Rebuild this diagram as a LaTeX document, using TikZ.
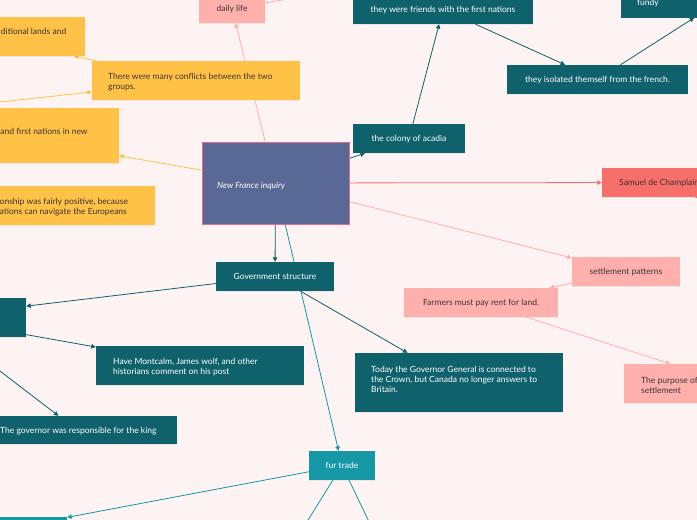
\documentclass[tikz,border=0pt]{standalone}
\usepackage{fontspec}
\setmainfont{Lato}
\usetikzlibrary{arrows.meta,shadows}
\definecolor{bgc}{HTML}{FDF3F2}
\definecolor{cblue}{HTML}{5A6896}
\definecolor{cpink}{HTML}{E26A95}
\definecolor{lpink}{HTML}{FFB0AD}
\definecolor{cyel}{HTML}{FFC247}
\definecolor{dteal}{HTML}{0F616B}
\definecolor{lteal}{HTML}{1597A5}
\definecolor{csalm}{HTML}{F76F6A}
\definecolor{dtext}{HTML}{3D3333}
\pgfdeclarelayer{back}
\pgfsetlayers{back,main}
\newcommand{\boxfont}{\fontsize{8.5}{10}\selectfont}
\tikzset{
  box/.style={rectangle, inner xsep=16pt, inner ysep=0pt, font=\boxfont,
    text height=6.5pt, text depth=0pt,
    drop shadow={shadow xshift=0.4pt, shadow yshift=-0.9pt, opacity=0.12}},
  darkbox/.style={box, fill=dteal, text=white},
  tealbox/.style={box, fill=lteal, text=white},
  yelbox/.style={box, fill=cyel, text=dtext},
  pinkbox/.style={box, fill=lpink, text=dtext},
  salmbox/.style={box, fill=csalm, text=dtext},
  txt/.style={inner sep=0pt, font=\boxfont, align=left},
  conn/.style={line width=0.8pt, -{Triangle[width=4.5pt,length=4.5pt]}},
}
\begin{document}
\begin{tikzpicture}[x=1pt,y=-1pt]
\useasboundingbox (0,0) rectangle (697,520);
\begin{pgfonlayer}{back}
\fill[bgc] (0,0) rectangle (697,520);
\end{pgfonlayer}

% central node
\node[box, fill=cblue, draw=cpink, line width=1pt, minimum width=147pt, minimum height=82pt] (ctr) at (275.5,183) {};
\node[txt, text=white, font=\fontsize{8.5}{10}\selectfont\itshape, anchor=mid west] (ctrt) at (217,186) {New France inquiry};

% top / left (yellow, pink)
\node[pinkbox, minimum width=66pt, minimum height=29pt] (daily) at (232,8.5) {daily life};
\node[yelbox, minimum width=208pt, minimum height=39pt] (confl) at (196,80.5) {};
\node[txt, text=dtext, anchor=west] (conflt) at (108,82) {There were many conflicts between the two\\groups.};
\node[yelbox, minimum width=220pt, minimum height=39pt] (yla) at (-25,36.5) {};
\node[txt, text=dtext, anchor=mid east] (ylat) at (66.5,32) {ditional lands and};
\node[yelbox, minimum width=233pt, minimum height=55pt] (ylb) at (2.5,135.5) {};
\node[txt, text=dtext, anchor=mid west] (ylbt) at (0.3,132) {and first nations in new};
\node[yelbox, minimum width=211pt, minimum height=39pt] (ylc) at (49.5,205.5) {};
\node[txt, text=dtext, anchor=west] (ylct) at (-0.5,207) {onship was fairly positive, because\\ations can navigate the Europeans};

% top right (dark teal)
\node[darkbox, minimum width=180pt, minimum height=29pt] (friends) at (443,9.5) {they were friends with the first nations};
\node[darkbox, minimum width=208pt, minimum height=39pt] (fundy) at (725,-2) {};
\node[txt, text=white, anchor=mid west] (fundyt) at (637,3) {fundy};
\node[darkbox, minimum width=181pt, minimum height=29pt] (isol) at (597.5,79.5) {they isolated themself from the french.};
\node[darkbox, minimum width=112pt, minimum height=29pt] (acadia) at (409,138.5) {the colony of acadia};

% right (salmon, pink)
\node[salmbox, minimum width=110pt, minimum height=29pt] (samuel) at (657,182.5) {};
\node[txt, text=dtext, anchor=mid west] (samuelt) at (619,183) {Samuel de Champlain};
\node[pinkbox, minimum width=108pt, minimum height=29pt] (settle) at (626,271.5) {settlement patterns};
\node[pinkbox, minimum width=154pt, minimum height=29pt] (farm) at (481,302.5) {Farmers must pay rent for land.};
\node[pinkbox, minimum width=214pt, minimum height=39pt] (purp) at (731,383.5) {};
\node[txt, text=dtext, anchor=west] (purpt) at (641,385) {The purpose of\\settlement};

% government
\node[darkbox, minimum width=118pt, minimum height=29pt] (gov) at (275,276.5) {Government structure};
\node[darkbox, minimum width=192pt, minimum height=39pt] (lbox) at (-70,317.5) {};
\node[darkbox, minimum width=208pt, minimum height=39pt] (mont) at (200,365.5) {};
\node[txt, text=white, anchor=west] (montt) at (113,367) {Have Montcalm, James wolf, and other\\historians comment on his post};
\node[darkbox, minimum width=200pt, minimum height=28pt] (gvnr) at (77,430) {};
\node[txt, text=white, anchor=mid west] (gvnrt) at (0,431) {The governor was responsible for the king};
\node[darkbox, minimum width=208pt, minimum height=59pt] (today) at (459,382.5) {};
\node[txt, text=white, anchor=west] (todayt) at (371,379)
  {Today the Governor General is connected to\\the Crown, but Canada no longer answers to\\Britain.};

% fur trade
\node[tealbox, minimum width=66pt, minimum height=29pt] (fur) at (342,465.5) {fur trade};
\node[tealbox, minimum width=150pt, minimum height=29pt] (bl) at (-8,531.5) {};

% off-canvas ends
\coordinate (dailyout) at (400,-20);
\coordinate (conflin) at (-100,113);
\coordinate (samout) at (800,237);
\coordinate (furout1) at (280,565);
\coordinate (furout2) at (385,555);

\begin{pgfonlayer}{back}
\draw[conn, lpink] (ctr) -- (daily);
\draw[conn, lpink] (daily) -- (dailyout);
\draw[conn, cyel] (confl) -- (yla);
\draw[conn, cyel] (conflin) -- (confl);
\draw[conn, cyel] (ctr) -- (ylb);
\draw[conn, dteal] (ctr) -- (acadia);
\draw[conn, dteal] (acadia) -- (friends);
\draw[conn, dteal] (friends) -- (isol);
\draw[conn, dteal] (isol) -- (fundy);
\draw[conn, csalm] (ctr) -- (samuel);
\draw[conn, csalm] (samuel) -- (samout);
\draw[conn, lpink] (ctr) -- (settle);
\draw[conn, lpink] (settle) -- (farm);
\draw[conn, lpink] (farm) -- (purp);
\draw[conn, dteal] (ctr) -- (gov);
\draw[conn, lteal] (ctr) -- (fur);
\draw[conn, dteal] (gov) -- (lbox);
\draw[conn, dteal] (lbox) -- (mont);
\draw[conn, dteal] (lbox) -- (gvnr);
\draw[conn, dteal] (gov) -- (today);
\draw[conn, lteal] (fur) -- (bl);
\draw[conn, lteal] (fur) -- (furout1);
\draw[conn, lteal] (fur) -- (furout2);
\end{pgfonlayer}
\end{tikzpicture}
\end{document}
